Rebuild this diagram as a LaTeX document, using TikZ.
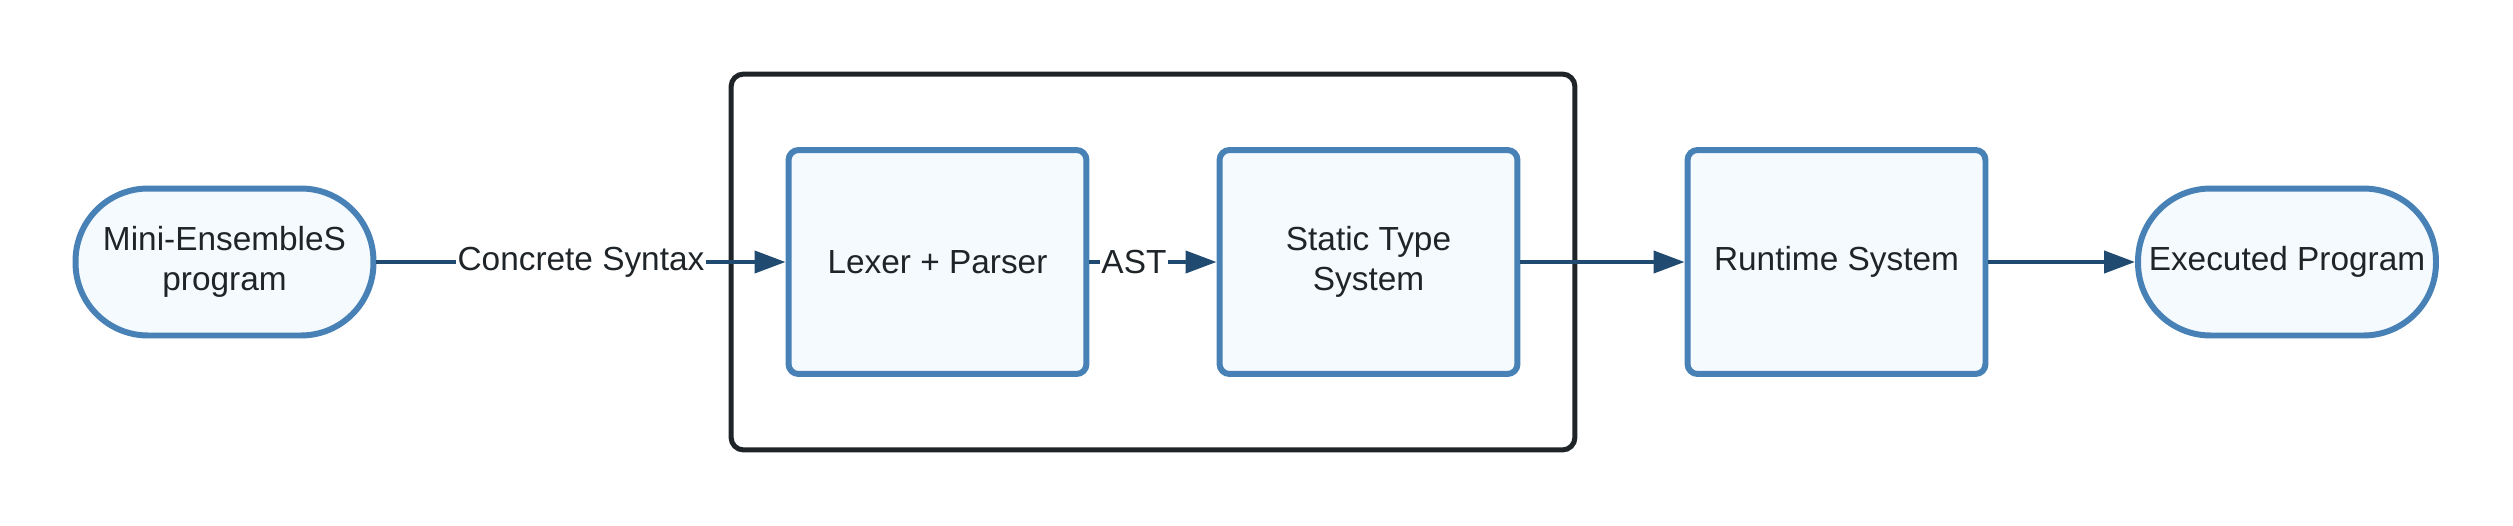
\documentclass[tikz,border=0pt]{standalone}
\usepackage{fontspec}
\setmainfont{Liberation Sans}
\usetikzlibrary{arrows.meta}

\definecolor{rand}{RGB}{72,129,181}
\definecolor{fuell}{RGB}{245,250,254}
\definecolor{pfeil}{RGB}{33,74,112}
\definecolor{schrift}{RGB}{30,36,40}

\begin{document}
\begin{tikzpicture}[x=0.02cm,y=-0.02cm,
	font=\fontsize{19}{22.7}\selectfont,text=schrift,
	>={Triangle[length=0.62cm,width=0.44cm]},
	kasten/.style={draw=rand,fill=fuell,line width=3.4pt,rounded corners=0.2cm,
		minimum width=5.96cm,minimum height=4.48cm,align=center,inner sep=0pt},
	stadion/.style={kasten,minimum height=2.94cm,rounded corners=1.45cm},
	rahmen/.style={draw=schrift,line width=2.85pt,rounded corners=0.25cm,
		minimum width=16.88cm,minimum height=7.52cm,inner sep=0pt},
	fluss/.style={->,draw=pfeil,line width=2.3pt},
	etikett/.style={fill=white,inner sep=1pt,text=schrift}]

\useasboundingbox (0,0) rectangle (2513,525);

\node[rahmen] (front) at (1153,262) {};

\node[stadion] (quelle) at (224.5,262) {Mini-EnsembleS\\program};
\node[kasten] (parser) at (937.5,262) {Lexer + Parser};
\node[kasten] (typen) at (1368.5,262) {Static Type\\System};
\node[kasten] (laufzeit) at (1836.5,262) {Runtime System};
\node[stadion] (ziel) at (2287,262) {Executed Program};

\draw[fluss] (quelle) -- node[etikett] (syntax) {Concrete Syntax} (parser);
\draw[fluss] (parser) -- node[etikett,pos=0.35] (ast) {AST} (typen);
\draw[fluss] (typen) -- (laufzeit);
\draw[fluss] (laufzeit) -- (ziel);

\end{tikzpicture}
\end{document}
